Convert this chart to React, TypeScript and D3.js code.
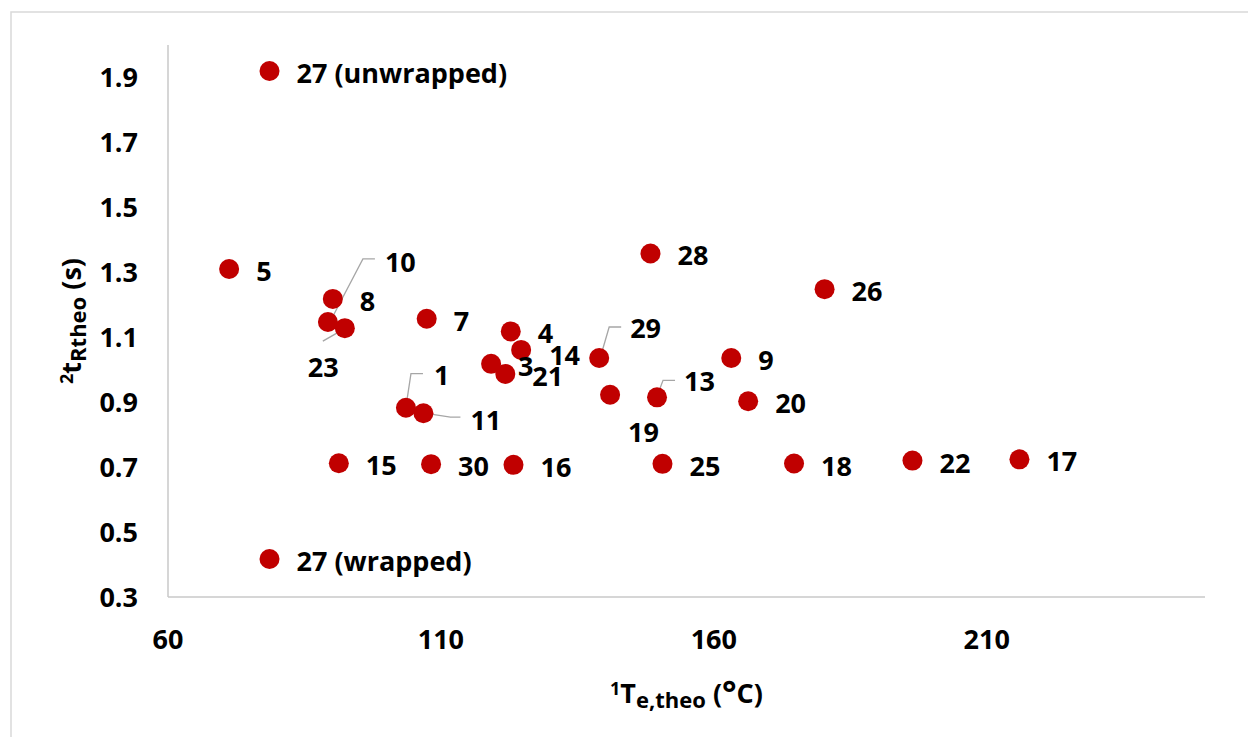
import React from "react";
import * as d3 from "d3";

// Sample identifiers and their two coordinates
const sampleIds = [
  "1", "3", "4", "5", "7", "8", "9", "10", "11", "13", "14", "15", "16", "17",
  "18", "19", "20", "21", "22", "23", "25", "26", "27 (unwrapped)", "27 (wrapped)",
  "28", "29", "30",
];
// 1T_e,theo (°C)
const elutionTemps = [
  103.6, 119.2, 122.8, 71.2, 107.4, 90.2, 163.2, 89.3, 106.8, 149.6, 124.7, 91.3,
  123.3, 216.0, 174.7, 141.0, 166.3, 121.8, 196.4, 92.4, 150.6, 180.3, 78.6, 78.6,
  148.4, 139.0, 108.2,
];
// 2t_Rtheo (s)
const retentionTimes = [
  0.883, 1.018, 1.118, 1.31, 1.157, 1.218, 1.036, 1.147, 0.866, 0.915, 1.061, 0.712,
  0.707, 0.724, 0.711, 0.923, 0.903, 0.987, 0.72, 1.128, 0.71, 1.248, 1.92, 0.417,
  1.358, 1.036, 0.709,
];

const xTicks = [60, 110, 160, 210];
const yTicks = [0.3, 0.5, 0.7, 0.9, 1.1, 1.3, 1.5, 1.7, 1.9];

// Labels that are moved off their default spot, with optional leader lines (px, relative to the dot)
type Placement = { dx: number; dy: number; leader?: [number, number][] };
const labelPlacement: Record<string, Placement> = {
  "10": { dx: 57, dy: -50, leader: [[2, 0], [35, -63], [47, -63]] },
  "23": { dx: -37, dy: 49, leader: [[-1, 1], [-22, 13]] },
  "1": { dx: 28, dy: -23, leader: [[0, -1], [5, -34], [17, -34]] },
  "11": { dx: 47, dy: 17, leader: [[1, 0], [27, 4], [37, 4]] },
  "29": { dx: 31, dy: -20, leader: [[1, 0], [10, -31], [22, -31]] },
  "13": { dx: 27, dy: -6, leader: [[0, -1], [6, -17], [18, -17]] },
  "19": { dx: 18, dy: 47 },
  "14": { dx: 28, dy: 15 },
};

const W = 1248;
const H = 737;
const margin = { left: 168, right: 1205, top: 45, bottom: 597 };
const FONT = "'Open Sans', Lato, sans-serif";

export default function App() {
  const x = d3.scaleLinear().domain([60, 250]).range([margin.left, margin.right]);
  const y = d3.scaleLinear().domain([0.3, 2.0]).range([margin.bottom, margin.top]);

  const points = sampleIds.map((id, i) => ({
    id,
    cx: x(elutionTemps[i]),
    cy: y(retentionTimes[i]),
  }));

  const leaderLine = d3.line();

  return (
    <svg
      width={W}
      height={H}
      style={{ position: "absolute", left: 0, top: 0, background: "#fff" }}
      fontFamily={FONT}
      fontWeight="bold"
    >
      <rect x={11} y={12} width={W} height={H} fill="#fff" stroke="#d9d9d9" strokeWidth={1.5} />

      {/* axes */}
      <line x1={margin.left} x2={margin.left} y1={margin.top} y2={margin.bottom} stroke="#c8c8c8" strokeWidth={1.5} />
      <line x1={margin.left} x2={margin.right} y1={margin.bottom} y2={margin.bottom} stroke="#c8c8c8" strokeWidth={1.5} />

      {yTicks.map((t) => (
        <text key={t} x={138} y={y(t) + 10} textAnchor="end" fontSize={27} fill="#000">
          {t.toFixed(1)}
        </text>
      ))}
      {xTicks.map((t) => (
        <text key={t} x={x(t)} y={649} textAnchor="middle" fontSize={27} fill="#000">
          {t}
        </text>
      ))}

      {/* axis titles */}
      <text x={(margin.left + margin.right) / 2} y={703} textAnchor="middle" fontSize={27} fill="#000">
        <tspan fontSize={18} dy={-8}>1</tspan>
        <tspan dy={8}>T</tspan>
        <tspan fontSize={22} dy={5}>e,theo</tspan>
        <tspan dy={-5}> (</tspan>
        <tspan fontSize={34} dy={2}>°</tspan>
        <tspan dy={-2}>C)</tspan>
      </text>
      <text
        transform={`translate(81, ${(margin.top + margin.bottom) / 2}) rotate(-90)`}
        textAnchor="middle"
        fontSize={27}
        fill="#000"
      >
        <tspan fontSize={18} dy={-8}>2</tspan>
        <tspan dy={8}>t</tspan>
        <tspan fontSize={22} dy={5}>Rtheo</tspan>
        <tspan dy={-5}> (s)</tspan>
      </text>

      {/* leader lines */}
      {points.map((p) => {
        const pl = labelPlacement[p.id];
        if (!pl || !pl.leader) return null;
        const pts = pl.leader.map(([dx, dy]) => [p.cx + dx, p.cy + dy] as [number, number]);
        return (
          <path key={`l-${p.id}`} d={leaderLine(pts) ?? ""} fill="none" stroke="#a6a6a6" strokeWidth={1.3} />
        );
      })}

      {/* points */}
      {points.map((p) => (
        <circle key={`c-${p.id}`} cx={p.cx} cy={p.cy} r={10} fill="#c00000" />
      ))}

      {/* data labels */}
      {points.map((p) => {
        const pl = labelPlacement[p.id] ?? { dx: 27, dy: 12 };
        return (
          <text key={`t-${p.id}`} x={p.cx + pl.dx} y={p.cy + pl.dy} fontSize={27} fill="#000">
            {p.id}
          </text>
        );
      })}
    </svg>
  );
}
